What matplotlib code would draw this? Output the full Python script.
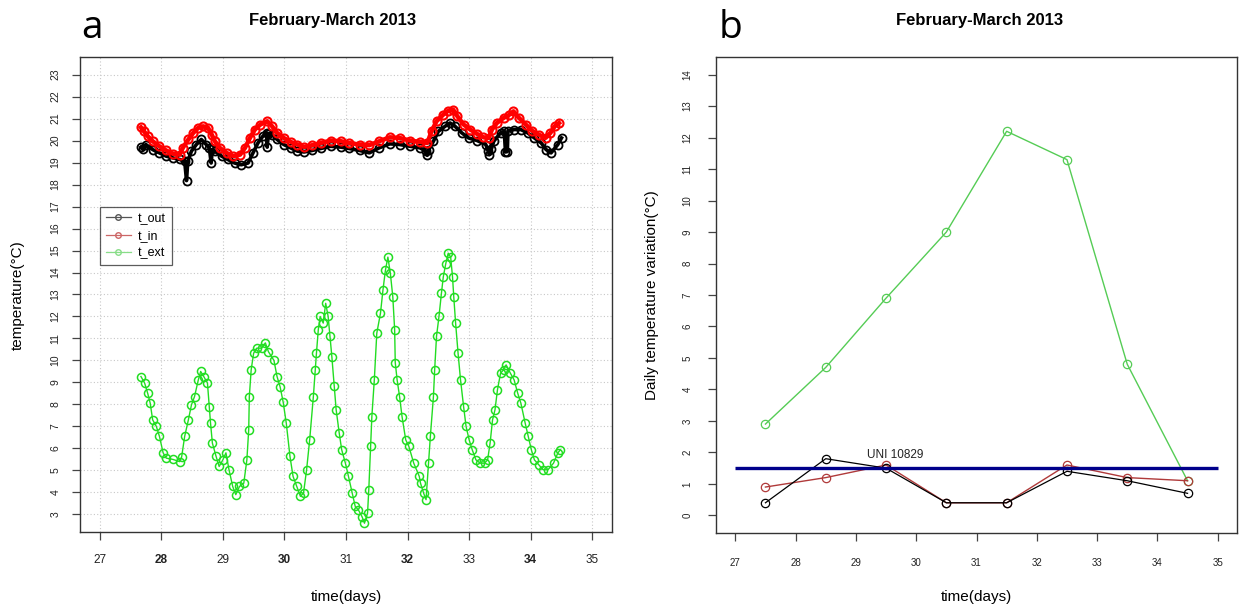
import matplotlib
matplotlib.use("Agg")
import matplotlib.pyplot as plt
from matplotlib.lines import Line2D

plt.rcParams['font.family'] = ['Liberation Sans', 'DejaVu Sans']

# ---------------- data: panel a (readings from the chart) ----------------
ext_days = [27.67, 27.73, 27.78, 27.82, 27.86, 27.92, 27.97, 28.03, 28.08, 28.19,
            28.30, 28.33, 28.38, 28.44, 28.49, 28.54, 28.60, 28.64, 28.69, 28.75,
            28.78, 28.80, 28.83, 28.89, 28.94, 29.00, 29.05, 29.10, 29.16, 29.21,
            29.27, 29.34, 29.39, 29.42, 29.43, 29.46, 29.50, 29.55, 29.63, 29.69,
            29.74, 29.83, 29.88, 29.93, 29.98, 30.03, 30.09, 30.14, 30.20, 30.26,
            30.31, 30.36, 30.41, 30.47, 30.50, 30.52, 30.55, 30.58, 30.63, 30.67,
            30.71, 30.74, 30.77, 30.81, 30.84, 30.89, 30.93, 30.99, 31.04, 31.10,
            31.15, 31.20, 31.26, 31.30, 31.35, 31.37, 31.40, 31.42, 31.46, 31.50,
            31.56, 31.60, 31.64, 31.68, 31.72, 31.76, 31.79, 31.80, 31.83, 31.87,
            31.91, 31.97, 32.02, 32.10, 32.19, 32.21, 32.26, 32.30, 32.34, 32.37,
            32.42, 32.44, 32.47, 32.51, 32.55, 32.58, 32.62, 32.66, 32.70, 32.73,
            32.75, 32.78, 32.82, 32.86, 32.91, 32.95, 33.00, 33.05, 33.11, 33.18,
            33.25, 33.30, 33.34, 33.38, 33.42, 33.46, 33.51, 33.56, 33.60, 33.67,
            33.73, 33.79, 33.84, 33.91, 33.96, 34.01, 34.06, 34.13, 34.20, 34.28,
            34.37, 34.44, 34.48]
ext_vals = [9.27, 8.97, 8.50, 8.06, 7.30, 7.00, 6.55, 5.80, 5.56, 5.50,
            5.40, 5.60, 6.55, 7.30, 7.98, 8.36, 9.10, 9.50, 9.27, 8.97,
            7.90, 7.15, 6.24, 5.64, 5.18, 5.48, 5.80, 5.03, 4.27, 3.90,
            4.27, 4.42, 5.48, 6.85, 8.36, 9.58, 10.33, 10.56, 10.56, 10.80,
            10.40, 10.00, 9.27, 8.80, 8.10, 7.15, 5.64, 4.73, 4.27, 3.82,
            3.97, 5.03, 6.39, 8.36, 9.58, 10.33, 11.40, 12.00, 11.70, 12.60,
            12.00, 11.10, 10.18, 8.82, 7.76, 6.70, 5.94, 5.33, 4.73, 3.97,
            3.36, 3.21, 2.90, 2.60, 3.06, 4.12, 6.09, 7.45, 9.12, 11.24,
            12.15, 13.20, 14.10, 14.70, 13.97, 12.90, 11.40, 9.90, 9.12, 8.36,
            7.45, 6.39, 6.10, 5.33, 4.73, 4.42, 3.97, 3.67, 5.33, 6.55,
            8.36, 9.58, 11.10, 12.00, 13.06, 13.80, 14.40, 14.88, 14.70, 13.80,
            12.90, 11.70, 10.33, 9.12, 7.90, 7.00, 6.39, 5.94, 5.48, 5.33,
            5.33, 5.48, 6.24, 7.30, 7.76, 8.67, 9.42, 9.58, 9.80, 9.42,
            9.12, 8.50, 8.06, 7.15, 6.55, 5.94, 5.48, 5.26, 5.03, 5.03,
            5.33, 5.79, 5.94]

in_days = [27.67, 27.72, 27.78, 27.86, 27.97, 28.08, 28.19, 28.30, 28.35, 28.44,
           28.52, 28.60, 28.68, 28.76, 28.82, 28.87, 28.95, 29.06, 29.17, 29.28,
           29.36, 29.44, 29.52, 29.61, 29.72, 29.80, 29.88, 29.99, 30.10, 30.21,
           30.32, 30.45, 30.59, 30.75, 30.92, 31.05, 31.22, 31.38, 31.54, 31.71,
           31.87, 32.04, 32.20, 32.32, 32.39, 32.47, 32.58, 32.66, 32.74, 32.81,
           32.91, 33.02, 33.13, 33.23, 33.32, 33.37, 33.45, 33.56, 33.64, 33.72,
           33.81, 33.92, 34.02, 34.13, 34.24, 34.32, 34.39, 34.46]
in_vals = [20.60, 20.42, 20.20, 19.97, 19.74, 19.55, 19.40, 19.36, 19.67, 20.05,
           20.35, 20.58, 20.65, 20.58, 20.27, 19.97, 19.67, 19.44, 19.29, 19.36,
           19.67, 20.12, 20.50, 20.73, 20.88, 20.65, 20.35, 20.12, 19.94, 19.82,
           19.71, 19.79, 19.89, 20.00, 19.97, 19.89, 19.82, 19.79, 19.97, 20.15,
           20.12, 20.00, 19.94, 19.89, 20.42, 20.88, 21.18, 21.36, 21.41, 21.10,
           20.73, 20.50, 20.30, 20.15, 20.12, 20.50, 20.80, 21.03, 21.15, 21.33,
           21.03, 20.73, 20.45, 20.27, 20.12, 20.35, 20.65, 20.80]

out_days = [27.67, 27.70, 27.75, 27.86, 27.97, 28.08, 28.19, 28.30, 28.38, 28.41,
            28.43, 28.49, 28.57, 28.65, 28.73, 28.78, 28.81, 28.83, 28.87, 28.98,
            29.08, 29.19, 29.30, 29.41, 29.49, 29.57, 29.65, 29.71, 29.72, 29.74,
            29.80, 29.88, 29.99, 30.10, 30.21, 30.32, 30.45, 30.59, 30.75, 30.92,
            31.05, 31.22, 31.38, 31.54, 31.71, 31.87, 32.04, 32.20, 32.30, 32.32,
            32.34, 32.42, 32.50, 32.61, 32.69, 32.77, 32.88, 32.99, 33.13, 33.27,
            33.31, 33.33, 33.36, 33.40, 33.51, 33.57, 33.59, 33.62, 33.63, 33.73,
            33.84, 33.95, 34.06, 34.17, 34.25, 34.33, 34.44, 34.50]
out_vals = [19.70, 19.60, 19.82, 19.59, 19.44, 19.29, 19.21, 19.14, 19.06, 18.18,
            19.06, 19.52, 19.82, 20.05, 19.82, 19.67, 18.98, 19.60, 19.52, 19.29,
            19.14, 18.98, 18.90, 18.98, 19.44, 19.89, 20.20, 20.35, 19.70, 20.30,
            20.27, 20.05, 19.82, 19.67, 19.52, 19.48, 19.55, 19.64, 19.74, 19.70,
            19.64, 19.55, 19.44, 19.67, 19.85, 19.82, 19.74, 19.67, 19.52, 19.33,
            19.55, 19.97, 20.42, 20.65, 20.80, 20.65, 20.35, 20.12, 20.00, 19.82,
            19.52, 19.36, 19.60, 19.97, 20.35, 20.42, 19.48, 19.50, 20.45, 20.50,
            20.50, 20.35, 20.12, 19.89, 19.59, 19.44, 19.82, 20.12]

# ---------------- data: panel b (daily variation) ----------------
daily_x = [27.5, 28.5, 29.5, 30.5, 31.5, 32.5, 33.5, 34.5]
var_ext = [2.9, 4.7, 6.9, 9.0, 12.2, 11.3, 4.8, 1.1]
var_out = [0.4, 1.8, 1.5, 0.4, 0.4, 1.4, 1.1, 0.7]
var_in = [0.9, 1.2, 1.6, 0.4, 0.4, 1.6, 1.2, 1.1]
uni_limit = 1.5
uni_label = "UNI 10829"

x_ticks = list(range(27, 36))
ya_ticks = list(range(3, 24))
yb_ticks = list(range(0, 15))
title = "February-March 2013"

# ---------------- figure ----------------
W, H = 1250, 606
fig = plt.figure(figsize=(W / 100, H / 100), dpi=100)

def axrect(x0, y0, x1, y1):
    return [x0 / W, 1 - y1 / H, (x1 - x0) / W, (y1 - y0) / H]

ax1 = fig.add_axes(axrect(80, 57, 612, 532))
ax2 = fig.add_axes(axrect(716, 57, 1237, 533))

edge = '#333333'
for ax in (ax1, ax2):
    for s in ax.spines.values():
        s.set_color(edge)
        s.set_linewidth(1.0)
    ax.tick_params(axis='both', direction='out', length=6, width=0.9, color='#444444')

# panel a
for x in x_ticks:
    ax1.axvline(x, color='#c8c8c8', lw=0.8, ls=(0, (1, 2)), zorder=0)
for y in ya_ticks:
    ax1.axhline(y, color='#c8c8c8', lw=0.8, ls=(0, (1, 2)), zorder=0)

ax1.plot(out_days, out_vals, color='black', lw=2.6, zorder=3, marker='o', markersize=5.8,
         markerfacecolor='none', markeredgewidth=1.3)
ax1.plot(in_days, in_vals, color='#ff0000', lw=3.2, zorder=4, marker='o', markersize=5.8,
         markerfacecolor='none', markeredgewidth=1.5)
ax1.plot(ext_days, ext_vals, color='#22dd22', lw=1.0, zorder=3, marker='o', markersize=5.8,
         markerfacecolor='none', markeredgewidth=1.1)

ax1.set_xlim(26.68, 35.32)
ax1.set_ylim(2.2, 23.8)
ax1.set_xticks(x_ticks)
ax1.set_yticks(ya_ticks)
ax1.set_xticklabels([str(v) for v in x_ticks])
for lab, v in zip(ax1.get_xticklabels(), x_ticks):
    lab.set_fontweight('bold' if v % 2 == 0 else 'normal')
ax1.tick_params(axis='x', labelsize=8.5, pad=10, labelcolor='#222222')
ax1.tick_params(axis='y', labelsize=7.5, pad=8, labelcolor='#222222')
for lab in ax1.get_yticklabels():
    lab.set_rotation(90)
    lab.set_va('center')

handles = [
    Line2D([], [], color='#555555', lw=0.9, marker='o', markersize=4, markerfacecolor='none'),
    Line2D([], [], color='#cc6666', lw=0.9, marker='o', markersize=4, markerfacecolor='none'),
    Line2D([], [], color='#88dd88', lw=0.9, marker='o', markersize=4, markerfacecolor='none'),
]
leg = ax1.legend(handles, ['t_out', 't_in', 't_ext'], loc='upper left',
                 bbox_to_anchor=(20 / 532, 1 - 150 / 475), fontsize=9,
                 frameon=True, fancybox=False, handlelength=2.0, handletextpad=0.6,
                 borderpad=0.45, labelspacing=0.42, borderaxespad=0)
leg.get_frame().set_edgecolor('#333333')
leg.get_frame().set_linewidth(0.9)

# panel b
mk2 = dict(marker='o', markersize=6.0, markerfacecolor='none', markeredgewidth=0.9)
ax2.plot(daily_x, var_ext, color='#55cc55', lw=1.0, zorder=3, **mk2)
ax2.plot(daily_x, var_in, color='#b03a3a', lw=1.0, zorder=3, **mk2)
ax2.plot(daily_x, var_out, color='black', lw=0.9, zorder=4, **mk2)
ax2.hlines(uni_limit, x_ticks[0], x_ticks[-1], color='#00008b', lw=2.4, zorder=5)
ax2.text(29.65, uni_limit + 0.42, uni_label, fontsize=8.5, ha='center', va='center',
         color='#222222')

ax2.set_xlim(26.68, 35.32)
ax2.set_ylim(-0.56, 14.56)
ax2.set_xticks(x_ticks)
ax2.set_yticks(yb_ticks)
ax2.tick_params(axis='x', labelsize=7, pad=12, labelcolor='#222222')
ax2.tick_params(axis='y', labelsize=7, pad=11, labelcolor='#222222')
for lab in ax2.get_yticklabels():
    lab.set_rotation(90)
    lab.set_va('center')

# text
fig.text(333 / W, 1 - 20 / H, title, ha='center', va='center', fontsize=12, fontweight='bold')
fig.text(980 / W, 1 - 20 / H, title, ha='center', va='center', fontsize=12, fontweight='bold')
fig.text(92 / W, 1 - 28 / H, 'a', ha='center', va='center', fontsize=28, family='Open Sans')
fig.text(730 / W, 1 - 28 / H, 'b', ha='center', va='center', fontsize=28, family='Open Sans')
fig.text(18 / W, 1 - 295 / H, 'temperature(°C)', rotation=90, ha='center', va='center', fontsize=11)
fig.text(652 / W, 1 - 295 / H, 'Daily temperature variation(°C)', rotation=90, ha='center',
         va='center', fontsize=11)
fig.text(346 / W, 1 - 597 / H, 'time(days)', ha='center', va='center', fontsize=11)
fig.text(976 / W, 1 - 597 / H, 'time(days)', ha='center', va='center', fontsize=11)

fig.savefig('out.png', dpi=100, facecolor='white')
